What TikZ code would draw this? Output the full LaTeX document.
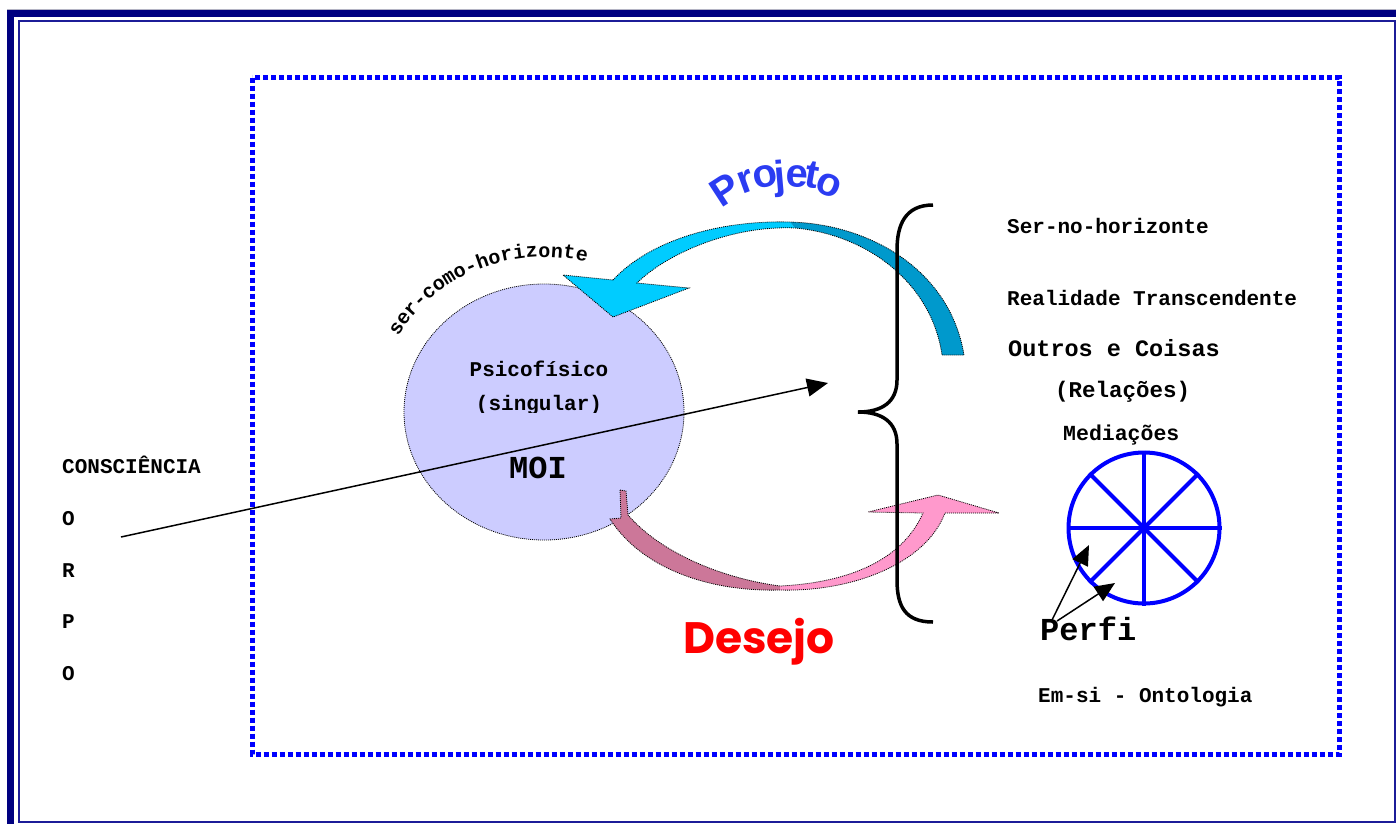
\documentclass[tikz,border=0pt]{standalone}
\usepackage{fontspec}
\setmainfont{Liberation Serif}
\setmonofont{Liberation Mono}
\newfontfamily\projfont{Liberation Sans}
\newfontfamily\desfont{Poppins}
\usetikzlibrary{arrows.meta,shapes.geometric}

\definecolor{navyframe}{HTML}{000080}
\definecolor{navythin}{HTML}{1C1C98}
\definecolor{framegray}{HTML}{B4B4C4}
\definecolor{psyfill}{HTML}{CCCCFF}
\definecolor{projfront}{HTML}{00CCFF}
\definecolor{projback}{HTML}{0099CC}
\definecolor{desback}{HTML}{CC7799}
\definecolor{desfront}{HTML}{FF99CC}
\definecolor{projblue}{HTML}{2B3CF2}

\newcommand\monolabel[1]{\ttfamily\bfseries\fontsize{#1}{#1}\selectfont}

\begin{document}
\begin{tikzpicture}[x=1pt,y=1pt,
  lbl/.style={font=\monolabel{21}, inner sep=0pt, anchor=base west},
  clbl/.style={font=\monolabel{21}, inner sep=0pt, anchor=base},
  arcchar/.style={font=\monolabel{20}, inner sep=0pt, anchor=base},
  projchar/.style={font=\projfont\bfseries\fontsize{40}{40}\selectfont, text=projblue, inner sep=0pt, anchor=center},
  bandedge/.style={draw=black, line width=0.8pt, dash pattern=on 1pt off 1pt},
  pointer/.style={line width=1.5pt, -{Triangle[length=20pt,width=17pt]}},
  spoke/.style={draw=blue, line width=4pt},
]
\useasboundingbox (0,0) rectangle (1396,-823);
\fill[white] (0,0) rectangle (1396,-823);

% page frame: thick band on the left and top, thin inner rule
\draw[framegray, line width=1pt] (7,-9.3) -- (1396,-9.3);
\draw[navyframe, line width=7pt, line join=miter] (10.5,-840) -- (10.5,-13.5) -- (1410,-13.5);
\draw[navythin, line width=2pt] (18.5,-21) rectangle (1394.8,-821.8);

% dotted blue field
\draw[blue, line width=5pt, dash pattern=on 5pt off 3pt] (252,-77.5) rectangle (1339.5,-754);

% the psychophysical self
\node (psy) [ellipse, minimum width=280pt, minimum height=256pt, inner sep=0pt,
  fill=psyfill, draw=black, line width=0.8pt, dash pattern=on 1pt off 1pt] at (544,-412) {};

% "ser-como-horizonte" set letter by letter on an ellipse around the circle
\foreach \c [count=\i from 0] in {s,e,r,-,c,o,m,o,-,h,o,r,i,z,o,n,t,e}{
  \pgfmathsetmacro\t{113+(8.5-\i)*4.2}
  \pgfmathsetmacro\px{544+167*cos(\t)}
  \pgfmathsetmacro\py{-412+155*sin(\t)}
  \pgfmathsetmacro\rot{atan2(-155*cos(\t),167*sin(\t))}
  \node (arc\i) [arcchar, rotate=\rot] at (\px,\py) {\c};
}

% Projeto: curved block arrow (front face, back face, outline)
\fill[projfront] (613,-280) .. controls (650,-240) and (720,-220) .. (790,-222)
  -- (795,-228) .. controls (730,-225) and (665,-255) .. (637,-283)
  -- (689,-288) -- (613,-317) -- (563,-275) -- cycle;
\fill[projback] (790,-222) .. controls (870,-224) and (950,-270) .. (964,-355)
  -- (942,-355) .. controls (932,-285) and (870,-235) .. (795,-228) -- cycle;
\path[bandedge] (613,-280) .. controls (650,-240) and (720,-220) .. (790,-222)
  .. controls (870,-224) and (950,-270) .. (964,-355)
  -- (942,-355) .. controls (932,-285) and (870,-235) .. (795,-228)
  .. controls (730,-225) and (665,-255) .. (637,-283)
  -- (689,-288) -- (613,-317) -- (563,-275) -- cycle;

% Desejo: curved block arrow
\fill[desback] (620,-490) -- (626,-491) -- (628,-515)
  .. controls (660,-552) and (720,-578) .. (780,-586) -- (780,-590)
  .. controls (705,-592) and (640,-566) .. (610,-519) -- (621,-518) -- cycle;
\fill[desfront] (780,-586) .. controls (840,-583) and (900,-565) .. (923,-513)
  -- (868,-512) -- (938,-495) -- (999,-513) -- (945,-513)
  .. controls (925,-565) and (850,-592) .. (780,-590) -- cycle;
\path[bandedge] (620,-490) -- (626,-491) -- (628,-515)
  .. controls (660,-552) and (720,-578) .. (780,-586)
  .. controls (840,-583) and (900,-565) .. (923,-513)
  -- (868,-512) -- (938,-495) -- (999,-513) -- (945,-513)
  .. controls (925,-565) and (850,-592) .. (780,-590)
  .. controls (705,-592) and (640,-566) .. (610,-519) -- (621,-518) -- cycle;

% Projeto title, letter by letter along its arc
\node (pj1) [projchar, rotate=33] at (725,-190) {P};
\node (pj2) [projchar, rotate=20] at (746,-181.5) {r};
\node (pj3) [projchar, rotate=12] at (765,-176.5) {o};
\node (pj4) [projchar, rotate=5]  at (780,-179) {j};
\node (pj5) [projchar, rotate=-3] at (797,-177) {e};
\node (pj6) [projchar, rotate=-10] at (812,-175) {t};
\node (pj7) [projchar, rotate=-22] at (829,-185.5) {o};

\node (desejo) [inner sep=0pt, anchor=base west, text=red,
  font=\desfont\bfseries\fontsize{44}{44}\selectfont] at (683,-653) {Desejo};

% texts inside the circle
\node (psico) [clbl] at (539,-376) {Psicofísico};
\begin{scope}
  \clip (460,-380) rectangle (620,-412.5);
  \node (singular) [clbl] at (539,-410) {(singular)};
\end{scope}
\node (moi) [clbl, font=\monolabel{32}] at (538,-478) {MOI};

% consciousness axis
\node (consc) [lbl] at (62,-473) {CONSCIÊNCIA};
\node (c1) [lbl] at (62,-525) {O};
\node (c2) [lbl] at (62,-577) {R};
\node (c3) [lbl] at (62,-628) {P};
\node (c4) [lbl] at (62,-680) {O};
\coordinate (corpo) at (121,-537);
\coordinate (alvo) at (828,-383);
\draw[line width=1.5pt, -{Triangle[length=21pt,width=18pt]}] (corpo) -- (alvo);

% the brace
\draw[black, line width=3.5pt] (933,-205) .. controls (905,-205) and (897,-225) .. (897,-250)
  -- (897,-380) .. controls (897,-402) and (882,-412) .. (858,-412)
  .. controls (882,-412) and (897,-422) .. (897,-444)
  -- (897,-580) .. controls (897,-606) and (905,-622) .. (933,-622);

% right-hand column
\node (sernohor) [lbl] at (1007,-233) {Ser-no-horizonte};
\node (realidade) [lbl] at (1007,-305) {Realidade Transcendente};
\node (outros) [lbl, font=\monolabel{23.5}] at (1008,-356) {Outros e Coisas};
\node (relacoes) [lbl, font=\monolabel{22.5}] at (1055,-397) {(Relações)};
\node (mediacoes) [lbl, font=\monolabel{21.5}] at (1063,-440) {Mediações};

% wheel of mediations
\node (wheel) [circle, draw=blue, line width=4pt, minimum size=151pt, inner sep=0pt] at (1144,-528) {};
\foreach \a in {0,45,90,135}{
  \pgfmathsetmacro\b{\a+180}
  \draw[spoke] (wheel.\a) -- (wheel.\b);
}

\node (perfi) [lbl, font=\monolabel{32}] at (1040,-640) {Perfi};
\coordinate (pa) at (1052,-620);
\coordinate (pb) at (1057,-621);
\coordinate (ta) at (1089,-545);
\coordinate (tb) at (1115,-583);
\draw[pointer] (pa) -- (ta);
\draw[pointer] (pb) -- (tb);

\node (emsi) [lbl] at (1038,-702) {Em-si - Ontologia};
\end{tikzpicture}
\end{document}
